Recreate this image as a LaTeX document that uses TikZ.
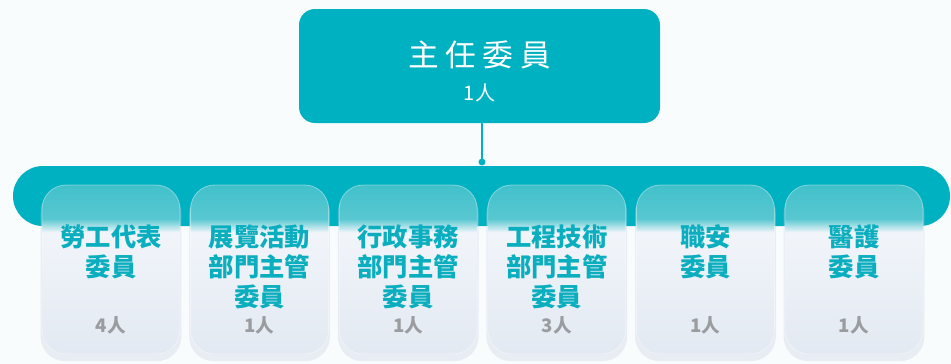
\documentclass[tikz,border=0pt]{standalone}
\usepackage{fontspec}
\setmainfont{Noto Sans CJK TC}
\usepackage{xcolor}
\usepackage{tikz}
\usetikzlibrary{shadows}
\definecolor{paper}{HTML}{F8FCFD}
\definecolor{tealmain}{HTML}{00B1C1}
\definecolor{tealtext}{HTML}{0AAEBE}
\definecolor{cardtealtop}{HTML}{42C1CB}
\definecolor{cardteal}{HTML}{58C7D0}
\definecolor{cardhigh}{HTML}{F1F5FA}
\definecolor{cardlow}{HTML}{E3E9F2}
\definecolor{countgray}{HTML}{9A9C9F}
\definecolor{glow}{HTML}{CDD0E3}
\pgfdeclareverticalshading{cardfade}{100bp}{color(0bp)=(cardlow); color(25bp)=(cardlow); color(61bp)=(cardhigh); color(65bp)=(cardteal); color(75bp)=(cardtealtop); color(100bp)=(cardtealtop)}

\begin{document}
\begin{tikzpicture}[x=0.75pt, y=-0.75pt, node distance={111.45pt},
	head/.style = {fill=tealmain, rounded corners=12pt, minimum width=270.75pt, minimum height=85.5pt, inner sep=0pt},
	card/.style = {shading=cardfade, rounded corners=18pt, minimum width=103.5pt, minimum height=126.75pt, inner sep=0pt, draw=white, draw opacity=0.4, line width=0.6pt, drop shadow={shadow xshift=0pt, shadow yshift=-4pt, shadow scale=1.02, fill=glow, opacity=0.35}},
	cardname/.style = {anchor=north, align=center, text=tealtext, inner sep=0pt, font=\fontsize{19pt}{22.5pt}\selectfont\bfseries},
	count/.style = {text=countgray, inner sep=0pt, font=\fontsize{14pt}{16pt}\selectfont\bfseries}]
	\useasboundingbox (0,0) rectangle (951,364);
	\fill[paper] (0,0) rectangle (951,364);
	% bar behind the cards
	\fill[tealmain, rounded corners=22.5pt] (13,166) rectangle (950,226);
	% top
	\node[head] (head) at (479.5,66) {};
	\node[text=white, inner sep=0pt, font=\fontsize{23pt}{26pt}\selectfont] (headname) at ([yshift=8.25pt]head.center) {主\hspace{5pt}任\hspace{5pt}委\hspace{5pt}員};
	\node[text=white, inner sep=0pt, font=\fontsize{15pt}{17pt}\selectfont] (headcount) at ([yshift=-20.25pt]head.center) {1人};
	\coordinate (dot) at (482,162);
	\draw[tealmain, line width=1.2pt] (head.south -| dot) -- (dot);
	\fill[tealmain] (dot) circle (2.6pt);
	% cards
	\node[card] (c1) at (111,269.5) {};
	\node[card] [right of=c1] (c2) {};
	\node[card] [right of=c2] (c3) {};
	\node[card] [right of=c3] (c4) {};
	\node[card] [right of=c4] (c5) {};
	\node[card] [right of=c5] (c6) {};
	\node[cardname] (n1) at ([yshift=-30pt]c1.north) {勞工代表\\委員};
	\node[cardname] (n2) at ([yshift=-30pt]c2.north) {展覽活動\\部門主管\\委員};
	\node[cardname] (n3) at ([yshift=-30pt]c3.north) {行政事務\\部門主管\\委員};
	\node[cardname] (n4) at ([yshift=-30pt]c4.north) {工程技術\\部門主管\\委員};
	\node[cardname] (n5) at ([yshift=-30pt]c5.north) {職安\\委員};
	\node[cardname] (n6) at ([yshift=-30pt]c6.north) {醫護\\委員};
	\node[count] (k1) at ([yshift=21.75pt]c1.south) {4人};
	\node[count] (k2) at ([yshift=21.75pt]c2.south) {1人};
	\node[count] (k3) at ([yshift=21.75pt]c3.south) {1人};
	\node[count] (k4) at ([yshift=21.75pt]c4.south) {3人};
	\node[count] (k5) at ([yshift=21.75pt]c5.south) {1人};
	\node[count] (k6) at ([yshift=21.75pt]c6.south) {1人};
\end{tikzpicture}
\end{document}
